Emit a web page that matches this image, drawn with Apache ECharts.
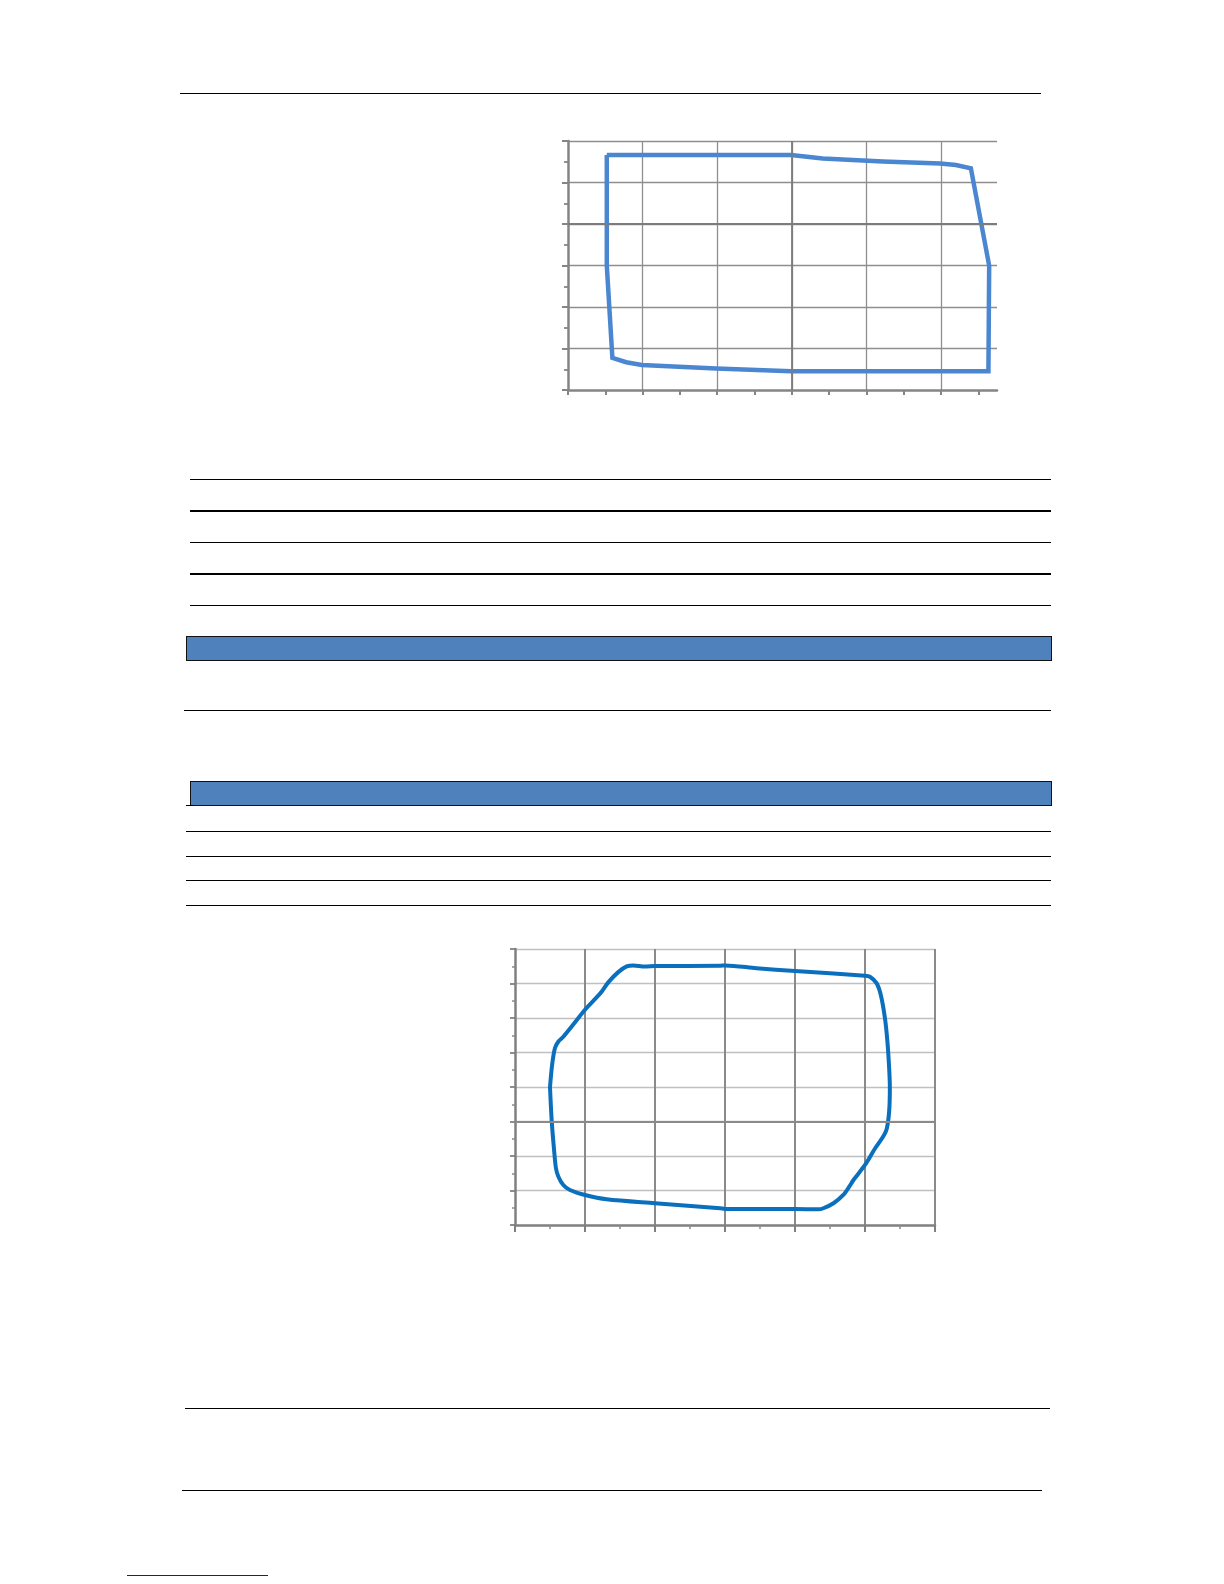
<!DOCTYPE html>
<html>
<head>
<meta charset="utf-8">
<script src="https://cdn.jsdelivr.net/npm/echarts@6.0.0/dist/echarts.min.js"></script>
<style>
  html, body { margin: 0; padding: 0; background: #ffffff; }
  #page { position: relative; width: 1224px; height: 1584px; overflow: hidden; background: #fff; }
  #chart { position: absolute; left: 0; top: 0; width: 1224px; height: 1584px; }
  .rule { position: absolute; background: #000; }
  .band { position: absolute; background: #4F81BD; border: 1px solid #111; box-sizing: border-box; }
</style>
</head>
<body>
<div id="page">
  <!-- page furniture -->
  <div class="rule" style="left:180px; top:92.5px; width:861px; height:1.4px;"></div>

  <div class="rule" style="left:190px; top:479px; width:861px; height:1.2px;"></div>
  <div class="rule" style="left:190px; top:510px; width:861px; height:2.2px;"></div>
  <div class="rule" style="left:190px; top:542px; width:861px; height:1.2px;"></div>
  <div class="rule" style="left:190px; top:573px; width:861px; height:2.2px;"></div>
  <div class="rule" style="left:190px; top:605px; width:861px; height:1.2px;"></div>

  <div class="band" style="left:186px; top:636px; width:866px; height:25px;"></div>
  <div class="rule" style="left:184px; top:710px; width:867px; height:1.3px;"></div>

  <div class="band" style="left:190px; top:780.5px; width:862px; height:25px; border-width:1.5px;"></div>
  <div class="rule" style="left:186px; top:805px; width:8px; height:1.3px;"></div>
  <div class="rule" style="left:186px; top:830.5px; width:865px; height:1.3px;"></div>
  <div class="rule" style="left:186px; top:855.5px; width:865px; height:1.3px;"></div>
  <div class="rule" style="left:186px; top:880px; width:865px; height:1.3px;"></div>
  <div class="rule" style="left:186px; top:904.5px; width:865px; height:1.3px;"></div>

  <div class="rule" style="left:185px; top:1408px; width:865px; height:1.4px;"></div>
  <div class="rule" style="left:182px; top:1490px; width:860px; height:1.4px;"></div>

  <div class="rule" style="left:127px; top:1574.5px; width:141px; height:1.4px; background:#1a1a8c;"></div>

  <div id="chart"></div>
</div>
<script>
// ---- Chart 1 data (upper chart) ----
var chart1X = [1.04, 5.98, 6.83, 8.44, 9.98, 10.40, 10.80, 11.29, 11.27, 5.98, 3.97, 1.98, 1.56, 1.19, 1.04, 1.04];
var chart1Y = [11.32, 11.32, 11.16, 11.01, 10.92, 10.84, 10.68, 5.99, 0.90, 0.90, 1.04, 1.21, 1.34, 1.55, 5.99, 11.32];
var chart1XTicks = [0, 1, 2, 3, 4, 5, 6, 7, 8, 9, 10, 11];

// ---- Chart 2 data (lower chart) ----
var chart2X = [1.00, 1.06, 1.14, 1.24, 1.36, 1.67, 2.00, 2.33, 2.48, 2.67, 2.95, 3.19, 3.38, 3.71, 4.00,
               5.86, 6.00, 6.90, 8.00, 10.00, 10.14, 10.33, 10.45, 10.57, 10.64, 10.69, 10.71,
               10.69, 10.62, 10.52, 10.29, 10.00, 9.67, 9.55, 9.38, 9.10, 8.81, 8.67, 8.00, 6.00,
               5.86, 4.00, 2.62, 2.00, 1.57, 1.38, 1.24, 1.17, 1.12, 1.05, 1.00];
var chart2Y = [7.99, 9.28, 10.25, 10.64, 10.87, 11.64, 12.48, 13.19, 13.54, 14.08, 14.66, 14.99, 15.05, 14.99, 15.01,
               15.03, 15.05, 14.89, 14.72, 14.45, 14.39, 14.02, 13.35, 11.99, 10.64, 9.09, 7.99,
               6.58, 5.57, 5.13, 4.45, 3.48, 2.61, 2.22, 1.74, 1.26, 0.97, 0.91, 0.93, 0.93,
               0.97, 1.26, 1.49, 1.74, 2.03, 2.32, 2.80, 3.29, 4.26, 6.00, 7.99];

function pairs(xs, ys) { return xs.map(function (x, i) { return [x, ys[i]]; }); }

var chart = echarts.init(document.getElementById('chart'), null, { renderer: 'canvas' });

chart.setOption({
  animation: false,
  backgroundColor: 'transparent',
  grid: [
    { left: 568, top: 141, width: 429, height: 249, containLabel: false },
    { left: 515, top: 949, width: 420, height: 276, containLabel: false }
  ],
  xAxis: [
    {
      // chart 1: gridlines every 2 units
      gridIndex: 0, type: 'value', min: 0, max: 11.5, interval: 2, position: 'bottom',
      axisLine: { show: false },
      axisTick: { show: false },
      axisLabel: { show: false },
      splitLine: { show: true, showMinLine: false, showMaxLine: false, lineStyle: { color: '#8e8e8e', width: 1.3 } }
    },
    {
      gridIndex: 1, type: 'value', min: 0, max: 12, interval: 2,
      axisLine: { show: true, onZero: false, lineStyle: { color: '#808080', width: 2.5 } },
      axisTick: { show: true, length: 7, lineStyle: { color: '#808080', width: 2 } },
      minorTick: { show: true, splitNumber: 2, length: 4, lineStyle: { color: '#8a8a8a', width: 1.5 } },
      axisLabel: { show: false },
      splitLine: { show: true, showMinLine: false, lineStyle: { color: '#8a8a8a', width: 2 } }
    },
    {
      // chart 1: axis line and ticks every unit
      gridIndex: 0, type: 'value', min: 0, max: 11.5, interval: 1, position: 'bottom', offset: 0,
      axisLine: { show: true, onZero: false, lineStyle: { color: '#858585', width: 2.5 } },
      axisTick: { show: true, customValues: chart1XTicks, length: 5, lineStyle: { color: '#858585', width: 2 } },
      axisLabel: { show: false },
      splitLine: { show: false }
    }
  ],
  yAxis: [
    {
      gridIndex: 0, type: 'value', min: 0, max: 12, interval: 2,
      axisLine: { show: true, onZero: false, lineStyle: { color: '#858585', width: 2.5 } },
      axisTick: { show: true, length: 6, lineStyle: { color: '#858585', width: 2 } },
      minorTick: { show: true, splitNumber: 2, length: 4, lineStyle: { color: '#858585', width: 1.8 } },
      axisLabel: { show: false },
      splitLine: { show: true, showMinLine: false, lineStyle: { color: '#8e8e8e', width: 1.3 } }
    },
    {
      gridIndex: 1, type: 'value', min: 0, max: 16, interval: 2,
      axisLine: { show: true, onZero: false, lineStyle: { color: '#808080', width: 2.5 } },
      axisTick: { show: true, length: 5, lineStyle: { color: '#808080', width: 1.8 } },
      minorTick: { show: true, splitNumber: 2, length: 3, lineStyle: { color: '#8a8a8a', width: 1.5 } },
      axisLabel: { show: false },
      splitLine: { show: true, showMinLine: false, lineStyle: { color: '#c0c0c0', width: 1.3 } }
    }
  ],
  series: [
    {
      type: 'line', xAxisIndex: 0, yAxisIndex: 0,
      data: pairs(chart1X, chart1Y),
      showSymbol: false, symbol: 'none', silent: true, clip: false,
      lineStyle: { color: '#4A87D0', width: 4.5, join: 'miter' },
      markLine: {
        silent: true, symbol: 'none', label: { show: false },
        lineStyle: { color: '#7c7c7c', width: 1.8, type: 'solid' },
        data: [{ xAxis: 6 }, { yAxis: 8 }]
      },
      z: 3
    },
    {
      type: 'line', xAxisIndex: 1, yAxisIndex: 1,
      data: pairs(chart2X, chart2Y),
      showSymbol: false, symbol: 'none', silent: true, clip: false,
      smooth: 0.3,
      lineStyle: { color: '#0A70BE', width: 4, join: 'round', cap: 'round' },
      markLine: {
        silent: true, symbol: 'none', label: { show: false },
        lineStyle: { color: '#8a8a8a', width: 2, type: 'solid' },
        data: [{ yAxis: 6 }]
      },
      z: 3
    }
  ]
});
</script>
</body>
</html>
